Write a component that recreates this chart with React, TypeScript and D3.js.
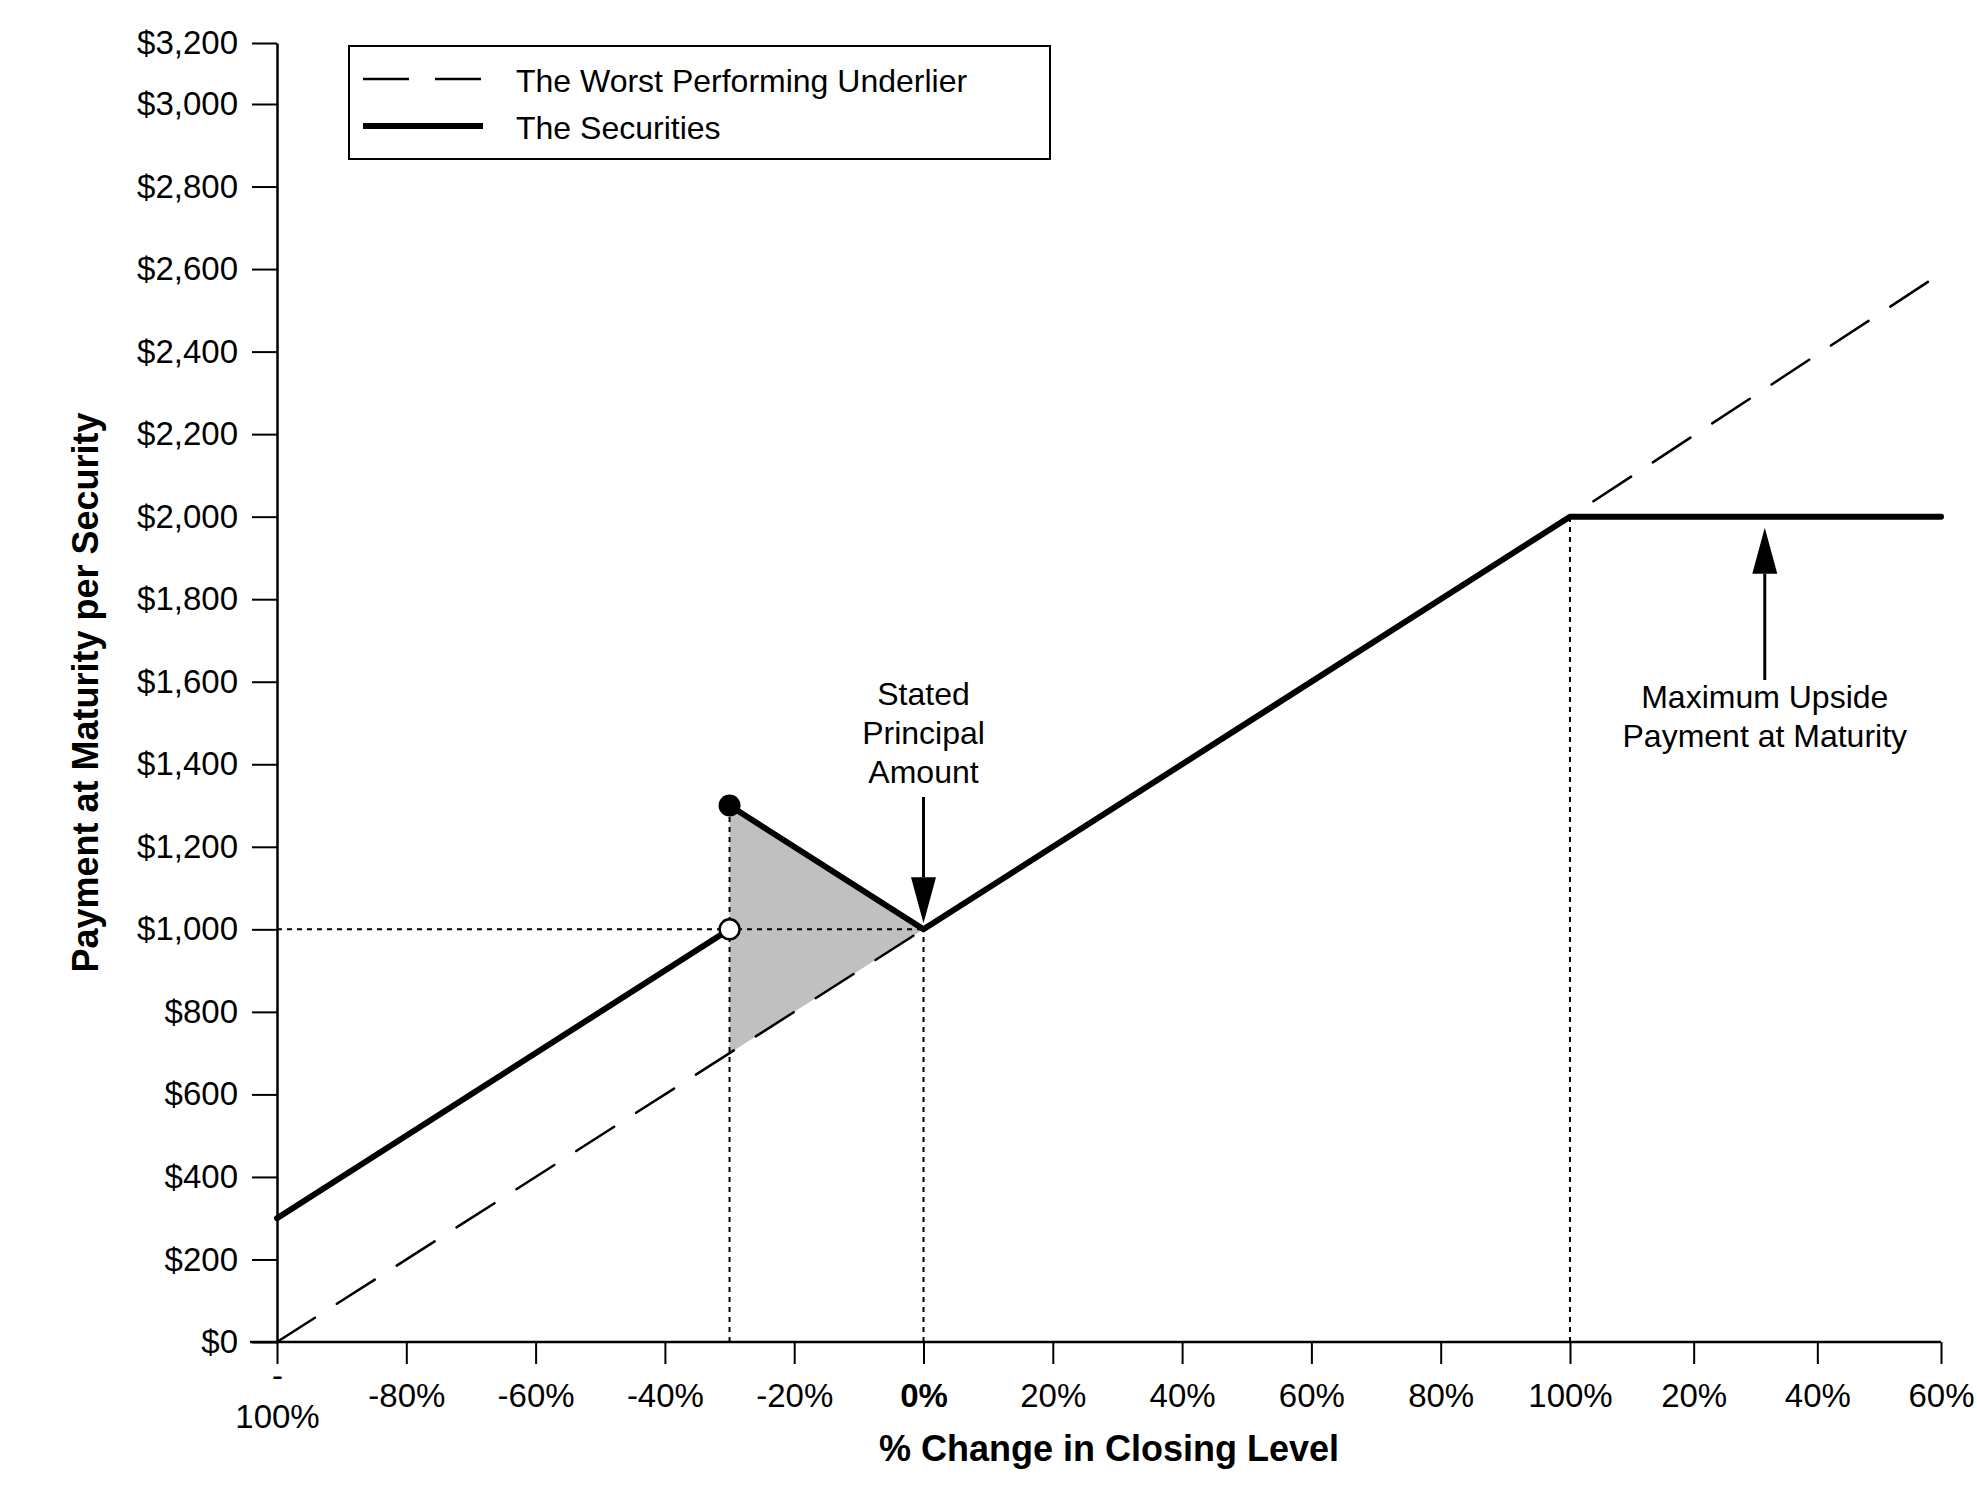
import React, { useEffect, useRef } from "react";
import * as d3 from "d3";

// axis ticks
const xTicks = [-100, -80, -60, -40, -20, 0, 20, 40, 60, 80, 100, 120, 140, 160];
const xTickLabels = ["-|100%", "-80%", "-60%", "-40%", "-20%", "0%", "20%", "40%", "60%", "80%", "100%", "20%", "40%", "60%"];
const yTicks = [0, 200, 400, 600, 800, 1000, 1200, 1400, 1600, 1800, 2000, 2200, 2400, 2600, 2800, 3000, 3200];
const yTickLabels = ["$0", "$200", "$400", "$600", "$800", "$1,000", "$1,200", "$1,400", "$1,600", "$1,800", "$2,000", "$2,200", "$2,400", "$2,600", "$2,800", "$3,000", "$3,200"];

// series
const underlierPct = [-100, 100, 158];
const underlierPay = [0, 2000, 2570];
const securitiesLowPct = [-100, -30];
const securitiesLowPay = [300, 1000];
const securitiesHighPct = [-30, 0, 100, 160];
const securitiesHighPay = [1300, 1000, 2000, 2000];
const shadePct = [-30, 0, -30];
const shadePay = [1300, 1000, 700];
// dotted guides: [pct, payment]
const guidePct = [-30, 0, 100];
const guidePay = [1300, 1000, 2000];

const FONT = "'Liberation Sans', Arial, sans-serif";

const App: React.FC = () => {
  const svgRef = useRef<SVGSVGElement | null>(null);

  useEffect(() => {
    const svg = d3.select(svgRef.current);
    svg.selectAll("*").remove();

    const x = d3.scaleLinear().domain([-100, 100, 160]).range([277, 1570, 1941]);
    const y = d3.scaleLinear().domain([0, 3000, 3200]).range([1342, 104, 43]);

    const toPts = (p: number[], v: number[]) => p.map((d, i) => [x(d), y(v[i])] as [number, number]);
    const line = d3.line();

    // shaded region
    svg.append("path")
      .attr("d", line(toPts(shadePct, shadePay)) + "Z")
      .attr("fill", "#c0c0c0");

    // dotted guides
    const dotted = svg.append("g")
      .attr("stroke", "#000")
      .attr("stroke-width", 2)
      .attr("stroke-dasharray", "5 5")
      .attr("fill", "none");
    dotted.append("line")
      .attr("x1", x(-100)).attr("x2", x(0))
      .attr("y1", y(1000)).attr("y2", y(1000));
    guidePct.forEach((p, i) => {
      dotted.append("line")
        .attr("x1", x(p)).attr("x2", x(p))
        .attr("y1", y(0)).attr("y2", y(guidePay[i]));
    });

    // worst performing underlier
    svg.append("path")
      .attr("d", line(toPts(underlierPct, underlierPay)))
      .attr("fill", "none")
      .attr("stroke", "#000")
      .attr("stroke-width", 2.5)
      .attr("stroke-linecap", "round")
      .attr("stroke-dasharray", "45 26");

    // securities
    [toPts(securitiesLowPct, securitiesLowPay), toPts(securitiesHighPct, securitiesHighPay)].forEach(pts => {
      svg.append("path")
        .attr("d", line(pts))
        .attr("fill", "none")
        .attr("stroke", "#000")
        .attr("stroke-width", 6)
        .attr("stroke-linejoin", "round")
        .attr("stroke-linecap", "round");
    });

    // end-point markers
    svg.append("circle")
      .attr("cx", x(-30)).attr("cy", y(1300)).attr("r", 11)
      .attr("fill", "#000");
    svg.append("circle")
      .attr("cx", x(-30)).attr("cy", y(1000)).attr("r", 10)
      .attr("fill", "#fff").attr("stroke", "#000").attr("stroke-width", 2.5);

    // axes
    const yAxis = d3.axisLeft(y)
      .tickValues(yTicks)
      .tickFormat((_d, i) => yTickLabels[i])
      .tickSize(25)
      .tickSizeOuter(0)
      .tickPadding(14);
    const gy = svg.append("g").attr("transform", `translate(${x(-100)},0)`).call(yAxis);

    const xAxis = d3.axisBottom(x)
      .tickValues(xTicks)
      .tickFormat((_d, i) => xTickLabels[i])
      .tickSize(22)
      .tickSizeOuter(0)
      .tickPadding(20);
    const gx = svg.append("g").attr("transform", `translate(0,${y(0)})`).call(xAxis);

    [gx, gy].forEach(g => {
      g.select(".domain").attr("stroke-width", 2.5);
      g.selectAll(".tick line").attr("stroke-width", 2);
      g.selectAll("text")
        .attr("font-family", FONT)
        .attr("font-size", 33)
        .attr("fill", "#000");
    });
    gx.select(".domain").attr("d", `M${x(-100) - 27},0H${x(160)}`);

    gx.selectAll<SVGTextElement, number>(".tick text").each(function (d, i) {
      const t = d3.select(this);
      if (d === 0) t.attr("font-weight", "bold");
      const label = xTickLabels[i];
      if (label.includes("|")) {
        const [a, b] = label.split("|");
        t.text(null).attr("dy", null).attr("y", 0);
        t.append("tspan").attr("x", 0).attr("y", 45).text(a);
        t.append("tspan").attr("x", 0).attr("y", 86).text(b);
      }
    });

    // axis titles
    svg.append("text")
      .attr("x", (x(-100) + x(160)) / 2)
      .attr("y", 1461)
      .attr("text-anchor", "middle")
      .attr("font-family", FONT)
      .attr("font-size", 36)
      .attr("font-weight", "bold")
      .text("% Change in Closing Level");

    svg.append("text")
      .attr("transform", `translate(98,${(y(0) + y(3200)) / 2}) rotate(-90)`)
      .attr("text-anchor", "middle")
      .attr("font-family", FONT)
      .attr("font-size", 36)
      .attr("font-weight", "bold")
      .text("Payment at Maturity per Security");

    // legend
    const lg = svg.append("g");
    lg.append("rect")
      .attr("x", 349).attr("y", 46).attr("width", 701).attr("height", 113)
      .attr("fill", "#fff").attr("stroke", "#000").attr("stroke-width", 2);
    lg.append("line")
      .attr("x1", 363).attr("x2", 481).attr("y1", 79).attr("y2", 79)
      .attr("stroke", "#000").attr("stroke-width", 2.5).attr("stroke-dasharray", "46 26");
    lg.append("line")
      .attr("x1", 363).attr("x2", 483).attr("y1", 126).attr("y2", 126)
      .attr("stroke", "#000").attr("stroke-width", 6);
    [["The Worst Performing Underlier", 92], ["The Securities", 139]].forEach(([label, ty]) => {
      lg.append("text")
        .attr("x", 516).attr("y", ty as number)
        .attr("font-family", FONT).attr("font-size", 32)
        .text(label as string);
    });

    // annotations
    const arrow = (ax: number, from: number, tip: number) => {
      const dir = tip > from ? 1 : -1;
      const base = tip - dir * 46;
      svg.append("line")
        .attr("x1", ax).attr("x2", ax).attr("y1", from).attr("y2", base)
        .attr("stroke", "#000").attr("stroke-width", 3);
      svg.append("path")
        .attr("d", `M${ax},${tip}L${ax - 12.5},${base}L${ax + 12.5},${base}Z`)
        .attr("fill", "#000");
    };

    const spX = x(0);
    ["Stated", "Principal", "Amount"].forEach((s, i) => {
      svg.append("text")
        .attr("x", spX).attr("y", 705 + i * 39)
        .attr("text-anchor", "middle")
        .attr("font-family", FONT).attr("font-size", 32)
        .text(s);
    });
    arrow(spX, 797, y(1000) - 6);

    const muX = x(131.5);
    ["Maximum Upside", "Payment at Maturity"].forEach((s, i) => {
      svg.append("text")
        .attr("x", muX).attr("y", 708 + i * 39)
        .attr("text-anchor", "middle")
        .attr("font-family", FONT).attr("font-size", 32)
        .text(s);
    });
    arrow(muX, 680, y(2000) + 11);
  }, []);

  return (
    <svg
      ref={svgRef}
      width={1977}
      height={1496}
      style={{ position: "absolute", left: 0, top: 0, background: "#fff" }}
    />
  );
};

export default App;
